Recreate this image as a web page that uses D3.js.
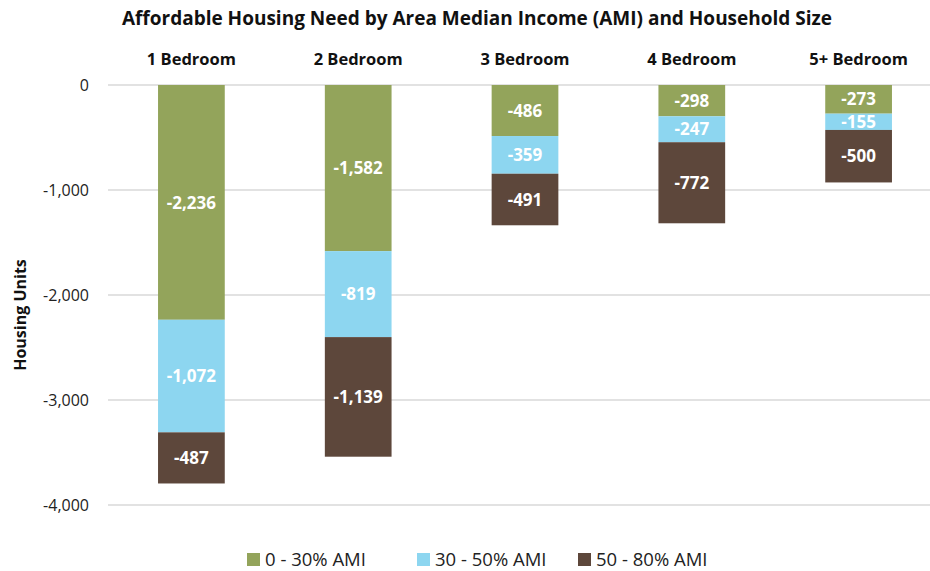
<!DOCTYPE html>
<html>
<head>
<meta charset="utf-8">
<script src="https://cdn.jsdelivr.net/npm/d3@7"></script>
<style>
  body { margin: 0; background: white; }
  svg { font-family: "Open Sans", Lato, sans-serif; }
</style>
</head>
<body>
<svg id="chart" width="930" height="571"></svg>
<script>
const categories = ["1 Bedroom", "2 Bedroom", "3 Bedroom", "4 Bedroom", "5+ Bedroom"];
const seriesNames = ["0 - 30% AMI", "30 - 50% AMI", "50 - 80% AMI"];
const ami0to30 = [-2236, -1582, -486, -298, -273];
const ami30to50 = [-1072, -819, -359, -247, -155];
const ami50to80 = [-487, -1139, -491, -772, -500];
const yTicks = [0, -1000, -2000, -3000, -4000];
const colors = ["#93a45b", "#8dd6f0", "#5d473b"];

const svg = d3.select("#chart");
// excel style numbers: plain hyphen, thousands comma
const fmt = v => d3.format(",d")(v).replace("\u2212", "-");

const x = d3.scaleBand().domain(categories).range([108, 942]).paddingInner(0.6).paddingOuter(0.3);
const y = d3.scaleLinear().domain([0, -4000]).range([85, 505]);

// rows for the stack
const rows = categories.map((c, i) => ({
  cat: c,
  s0: -ami0to30[i],
  s1: -ami30to50[i],
  s2: -ami50to80[i]
}));
const stack = d3.stack().keys(["s0", "s1", "s2"])(rows);

// gridlines
svg.append("g")
  .selectAll("line")
  .data(yTicks)
  .enter()
  .append("line")
  .attr("x1", 108)
  .attr("x2", 930)
  .attr("y1", d => y(d))
  .attr("y2", d => y(d))
  .attr("stroke", "#d9d9d9")
  .attr("stroke-width", 1.3);

// y axis
const yAxis = d3.axisLeft(y).tickValues(yTicks).tickSize(0).tickPadding(0).tickFormat(fmt);
const yG = svg.append("g").attr("transform", "translate(89,0)").call(yAxis);
yG.select(".domain").remove();
yG.selectAll("text")
  .attr("font-size", "16px")
  .attr("fill", "#222")
  .style("font-family", "'Open Sans', Lato, sans-serif");

// bars
const layers = svg.append("g")
  .selectAll("g")
  .data(stack)
  .enter()
  .append("g")
  .attr("fill", (d, i) => colors[i]);

layers.selectAll("rect")
  .data(d => d)
  .enter()
  .append("rect")
  .attr("x", d => x(d.data.cat))
  .attr("width", x.bandwidth())
  .attr("y", d => y(-d[0]))
  .attr("height", d => y(-d[1]) - y(-d[0]));

layers.selectAll("text")
  .data(d => d)
  .enter()
  .append("text")
  .attr("x", d => x(d.data.cat) + x.bandwidth() / 2)
  .attr("y", d => (y(-d[0]) + y(-d[1])) / 2)
  .attr("dy", "0.36em")
  .attr("text-anchor", "middle")
  .attr("fill", "white")
  .attr("font-weight", "bold")
  .attr("font-size", "17px")
  .text(d => fmt(-(d[1] - d[0])));

// category labels on top
svg.append("g")
  .selectAll("text")
  .data(categories)
  .enter()
  .append("text")
  .attr("x", d => x(d) + x.bandwidth() / 2)
  .attr("y", 65)
  .attr("text-anchor", "middle")
  .attr("font-weight", "bold")
  .attr("font-size", "16.5px")
  .attr("fill", "#111")
  .text(d => d);

// title
svg.append("text")
  .attr("x", 477)
  .attr("y", 25)
  .attr("text-anchor", "middle")
  .attr("font-weight", "bold")
  .attr("font-size", "19px")
  .attr("fill", "#111")
  .text("Affordable Housing Need by Area Median Income (AMI) and Household Size");

// y axis title
svg.append("text")
  .attr("transform", "translate(26,315) rotate(-90)")
  .attr("text-anchor", "middle")
  .attr("font-weight", "bold")
  .attr("font-size", "16px")
  .attr("fill", "#111")
  .text("Housing Units");

// legend
const legendX = [247, 417, 578];
const legend = svg.append("g")
  .selectAll("g")
  .data(seriesNames)
  .enter()
  .append("g")
  .attr("transform", (d, i) => `translate(${legendX[i]},553)`);
legend.append("rect")
  .attr("width", 13)
  .attr("height", 13)
  .attr("fill", (d, i) => colors[i]);
legend.append("text")
  .attr("x", 18)
  .attr("y", 13)
  .attr("font-size", "18.5px")
  .attr("fill", "#222")
  .text(d => d);
</script>
</body>
</html>
